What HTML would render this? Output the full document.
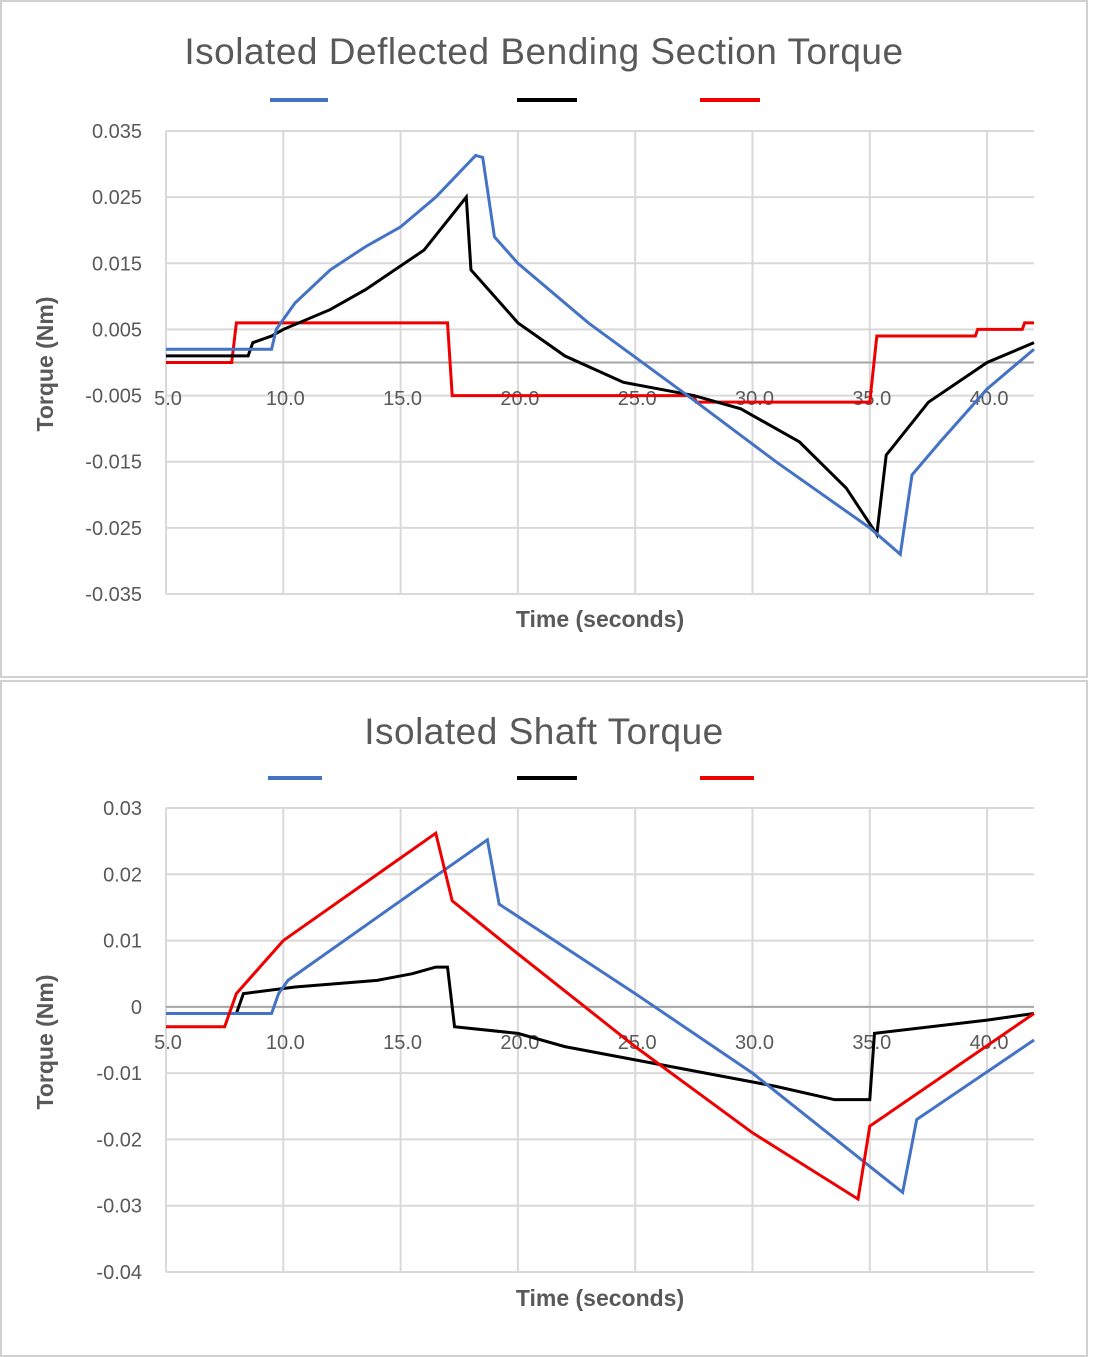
<!DOCTYPE html>
<html><head><meta charset="utf-8"><style>
body{margin:0;background:#fff;width:1097px;height:1357px;overflow:hidden;font-family:"Liberation Sans",sans-serif}
svg{position:absolute;left:0;top:0}
</style></head><body>
<svg id="s" width="1097" height="1357">
<rect x="1" y="1" width="1086" height="676" fill="#fff" stroke="#d0d0d0" stroke-width="2"/>
<rect x="1" y="681" width="1086" height="675" fill="#fff" stroke="#d0d0d0" stroke-width="2"/>
<text x="544" y="64" text-anchor="middle" font-size="37" letter-spacing="0.5" fill="#595959">Isolated Deflected Bending Section Torque</text>
<text x="544" y="744" text-anchor="middle" font-size="37" letter-spacing="0.5" fill="#595959">Isolated Shaft  Torque</text>
<line x1="270" y1="100" x2="328" y2="100" stroke="#4472c4" stroke-width="4"/>
<line x1="517" y1="100" x2="577" y2="100" stroke="#000" stroke-width="4"/>
<line x1="700" y1="100" x2="760" y2="100" stroke="#e00" stroke-width="4"/>
<line x1="268" y1="778" x2="322" y2="778" stroke="#4472c4" stroke-width="4"/>
<line x1="517" y1="778" x2="577" y2="778" stroke="#000" stroke-width="4"/>
<line x1="700" y1="778" x2="754" y2="778" stroke="#e00" stroke-width="4"/>
</svg>
<script>
const xTicks=[5,10,15,20,25,30,35,40];
const topYTicks=[0.035,0.025,0.015,0.005,-0.005,-0.015,-0.025,-0.035];
const botYTicks=[0.03,0.02,0.01,0,-0.01,-0.02,-0.03,-0.04];
const topBlue=[[5,0.002],[9.5,0.002],[9.7,0.005],[10.5,0.009],[12,0.014],[13.5,0.0175],[15,0.0205],[16.5,0.025],[18.2,0.0313],[18.5,0.031],[19,0.019],[20,0.015],[23,0.006],[27.5,-0.0057],[31,-0.015],[35,-0.025],[36.3,-0.029],[36.8,-0.017],[38,-0.012],[40,-0.004],[42,0.002]];
const topBlack=[[5,0.001],[8.5,0.001],[8.7,0.003],[9.5,0.004],[10,0.005],[12,0.008],[13.5,0.011],[16,0.017],[17.8,0.025],[18,0.014],[20,0.006],[22,0.001],[24.5,-0.003],[27.5,-0.005],[29.5,-0.007],[32,-0.012],[34,-0.019],[35.3,-0.026],[35.7,-0.014],[37.5,-0.006],[40,0.0],[42,0.003]];
const topRed=[[5,0],[7.8,0],[8,0.006],[17,0.006],[17.2,-0.005],[27.5,-0.005],[27.6,-0.006],[35,-0.006],[35.3,0.004],[39.5,0.004],[39.6,0.005],[41.5,0.005],[41.6,0.006],[42,0.006]];
const botBlue=[[5,-0.001],[9.5,-0.001],[9.8,0.002],[10.2,0.004],[15,0.016],[18.7,0.0252],[19.2,0.0155],[25,0.002],[30,-0.010],[36.4,-0.028],[37,-0.017],[42,-0.005]];
const botBlack=[[5,-0.001],[8,-0.001],[8.3,0.002],[10.5,0.003],[14,0.004],[15.5,0.005],[16.5,0.006],[17,0.006],[17.3,-0.003],[20,-0.004],[22,-0.006],[25,-0.008],[28,-0.01],[31,-0.012],[33.5,-0.014],[35,-0.014],[35.2,-0.004],[40,-0.002],[42,-0.001]];
const botRed=[[5,-0.003],[7.5,-0.003],[8,0.002],[10,0.010],[16.5,0.0262],[17.2,0.016],[20,0.008],[25,-0.006],[30,-0.019],[34.5,-0.029],[35,-0.018],[42,-0.001]];
const NS='http://www.w3.org/2000/svg';
const svg=document.getElementById('s');
function mk(t,a){const e=document.createElementNS(NS,t);for(const k in a)e.setAttribute(k,a[k]);svg.appendChild(e);return e;}
function chart(pre,yTicks,yTop,yBot,vTop,vBot,series,yTitleY,xTitleY,xLabelY){
 const X=t=>166+(t-5)*(1034-166)/37;
 const Y=v=>yTop+(vTop-v)*(yBot-yTop)/(vTop-vBot);
 yTicks.forEach(v=>{const l=mk('line',{x1:166,x2:1034,y1:Y(v),y2:Y(v),stroke:'#d9d9d9','stroke-width':2});
 
 
 const t=mk('text',{x:142,y:Y(v)+7,'text-anchor':'end','font-size':20,fill:'#595959'});t.textContent=v===0?'0':String(v);
 
 });
 xTicks.forEach(x=>{const l=mk('line',{x1:X(x),x2:X(x),y1:yTop,y2:yBot,stroke:'#d9d9d9','stroke-width':2});
 
 
 const t=mk('text',{x:X(x)+2,y:xLabelY,'text-anchor':'middle','font-size':20,fill:'#595959'});t.textContent=x.toFixed(1);
 
 });
 const ax=mk('line',{x1:166,x2:1034,y1:Y(0),y2:Y(0),stroke:'#a6a6a6','stroke-width':2});
 
 
 series.forEach(([d,c,n])=>{const p=mk('polyline',{points:d.map(q=>X(q[0])+','+Y(q[1])).join(' '),fill:'none',stroke:c,'stroke-width':3});
 
 });
 const xt=mk('text',{x:600,y:xTitleY,'text-anchor':'middle','font-size':23,'font-weight':'bold',fill:'#595959'});xt.textContent='Time (seconds)';
 
 
 const yt=mk('text',{x:0,y:0,transform:'translate(53,'+yTitleY+') rotate(-90)','text-anchor':'middle','font-size':23,'font-weight':'bold',fill:'#595959'});yt.textContent='Torque (Nm)';
 
 
}
chart('top',topYTicks,131,594,0.035,-0.035,[[topRed,'#e00','red'],[topBlack,'#000','black'],[topBlue,'#4472c4','blue']],364,627,405);
chart('bottom',botYTicks,808,1272,0.03,-0.04,[[botBlack,'#000','black'],[botBlue,'#4472c4','blue'],[botRed,'#e00','red']],1042,1306,1049);
</script>
</body></html>
